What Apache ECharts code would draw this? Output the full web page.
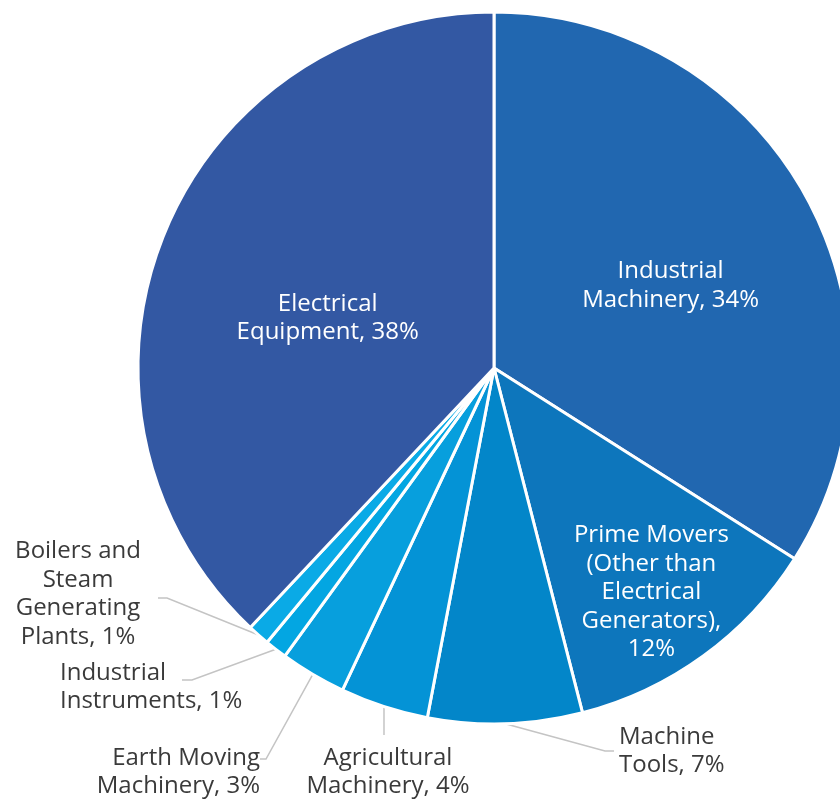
<!DOCTYPE html>
<html>
<head>
<meta charset="utf-8">
<script src="https://cdn.jsdelivr.net/npm/echarts@6/dist/echarts.min.js"></script>
<style>
  html, body { margin: 0; padding: 0; background: #ffffff; }
  #chart { width: 840px; height: 799px; }
</style>
</head>
<body>
<div id="chart"></div>
<script>
// Shares of machinery output by segment (percent), clockwise from 12 o'clock
const names = [
  'Industrial\nMachinery',
  'Prime Movers\n(Other than\nElectrical\nGenerators)',
  'Machine\nTools',
  'Agricultural\nMachinery',
  'Earth Moving\nMachinery',
  'Industrial\nInstruments',
  'Boilers and\nSteam\nGenerating\nPlants',
  'Electrical\nEquipment'
];
const values = [34, 12, 7, 4, 3, 1, 1, 38];
const separators = [', ', ',\n', ', ', ', ', ', ', ', ', ', ', ', '];
const colors = ['#2167b0', '#0d76bc', '#0386c9', '#0493d6', '#079fdd', '#03a6e2', '#0aaae6', '#3358a3'];

// Which labels sit inside their slice
const insideLabel = [true, true, false, false, false, false, false, true];

// Nudges for the inside labels
const insideOffset = {
  0: [18, 5],
  1: [51, 78],
  7: [2, 17]
};

// Placement of the outside labels: anchor, alignment and leader-line bend
const outsidePlacement = {
  2: { x: 619, y: 751, align: 'left',   bend: [605, 751], end: [614, 751] },
  3: { x: 388, y: 772, align: 'center', bend: null,       end: [384, 735] },
  4: { x: 260, y: 772, align: 'right',  bend: [266, 759], end: [260, 759] },
  5: { x: 60,  y: 687, align: 'left',   bend: [192, 680], end: [182, 680] },
  6: { x: 78,  y: 594, align: 'center', bend: [167, 598], end: [158, 598] }
};

const FONT = '"Open Sans", sans-serif';

const data = names.map((n, i) => {
  const item = {
    name: n,
    value: values[i],
    itemStyle: { color: colors[i] }
  };
  if (insideLabel[i]) {
    item.label = {
      position: 'inside',
      color: '#ffffff',
      offset: insideOffset[i] || [0, 0]
    };
    item.labelLine = { show: false };
  } else {
    item.label = { position: 'outside', color: '#3a3a3a' };
    item.labelLine = { show: true, length: 20, length2: 10 };
  }
  return item;
});

const chart = echarts.init(document.getElementById('chart'), null, { renderer: 'canvas' });

chart.setOption({
  backgroundColor: '#ffffff',
  animation: false,
  series: [{
    type: 'pie',
    center: [494, 368],
    radius: [0, 356],
    startAngle: 90,
    clockwise: true,
    avoidLabelOverlap: false,
    itemStyle: { borderColor: '#ffffff', borderWidth: 3 },
    label: {
      show: true,
      fontFamily: FONT,
      fontSize: 24,
      lineHeight: 28.5,
      align: 'center',
      formatter: p => p.name + separators[p.dataIndex] + p.value + '%'
    },
    labelLine: {
      lineStyle: { color: '#c4c4c4', width: 1.5 }
    },
    labelLayout: params => {
      const spec = outsidePlacement[params.dataIndex];
      if (!spec) return {};
      const start = params.labelLinePoints ? params.labelLinePoints[0] : null;
      const out = {
        x: spec.x,
        y: spec.y,
        align: spec.align,
        verticalAlign: 'middle'
      };
      if (start) {
        out.labelLinePoints = spec.bend
          ? [start, spec.bend, spec.end]
          : [start, [start[0], (start[1] + spec.end[1]) / 2], [start[0], spec.end[1]]];
      }
      return out;
    },
    data: data
  }]
});
</script>
</body>
</html>
